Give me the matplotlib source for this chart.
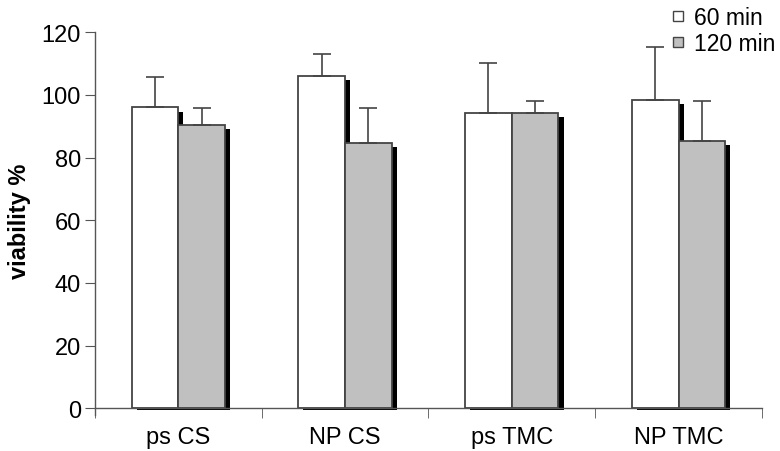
import matplotlib.pyplot as plt
import numpy as np
from matplotlib.lines import Line2D

plt.rcParams['font.family'] = ['Liberation Sans', 'DejaVu Sans']

groups = ['ps CS', 'NP CS', 'ps TMC', 'NP TMC']
series = ['60 min', '120 min']
v60 = [96, 106, 94.2, 98.3]
e60 = [9.8, 7.1, 15.9, 17]
v120 = [90.5, 84.7, 94.2, 85.4]
e120 = [5.4, 11.2, 3.7, 12.8]

fig = plt.figure(figsize=(7.8, 4.52), dpi=100)
ax = fig.add_axes([0.1218, 0.0945, 0.855, 0.832])

x = np.arange(len(groups))
w = 0.28
dx, dy, db = 0.03, 1.3, 0.7  # shadow offset (right, down at top, down at base)

for vals, errs, off, col in [(v60, e60, -w / 2, 'white'), (v120, e120, w / 2, '#c0c0c0')]:
    # black drop shadow
    ax.bar(x + off + dx, np.array(vals) - dy + db, w, bottom=-db, color='black',
           zorder=1, clip_on=False)
    ax.bar(x + off, vals, w, color=col, edgecolor='#444444', linewidth=1.3, zorder=2)
    ax.errorbar(x + off, vals, yerr=[np.zeros(len(vals)), errs], fmt='none',
                ecolor='#444444', elinewidth=1.2, capsize=6.5, capthick=1.2, zorder=3)

ax.set_xlim(-0.5, len(groups) - 0.5)
ax.set_ylim(0, 120)
ax.set_yticks(range(0, 121, 20))
ax.set_xticks(x)
ax.set_xticklabels(groups)
ax.set_xticks(np.arange(-0.5, len(groups)), minor=True)
ax.tick_params(axis='x', which='major', length=0, pad=13, labelsize=17)
ax.tick_params(axis='x', which='minor', length=7, color='#555555')
ax.tick_params(axis='y', length=7, color='#555555', labelsize=17, pad=3)

for s in ['top', 'right']:
    ax.spines[s].set_visible(False)
for s in ['left', 'bottom']:
    ax.spines[s].set_color('#555555')
    ax.spines[s].set_linewidth(1.0)
ax.spines['left'].set_bounds(-2.2, 120)

ax.set_ylabel('viability %', fontsize=17, fontweight='bold', labelpad=8)

handles = [Line2D([], [], marker='s', linestyle='none', markersize=7, markerfacecolor=c,
                  markeredgecolor='#444444', markeredgewidth=1.0, label=lab)
           for c, lab in zip(['white', '#c0c0c0'], series)]
fig.legend(handles=handles, loc='upper left', bbox_to_anchor=(0.836, 1.03),
           frameon=False, fontsize=16.5, handlelength=0.5,
           handletextpad=0.45, labelspacing=0.12)

plt.savefig('out.png', dpi=100)
